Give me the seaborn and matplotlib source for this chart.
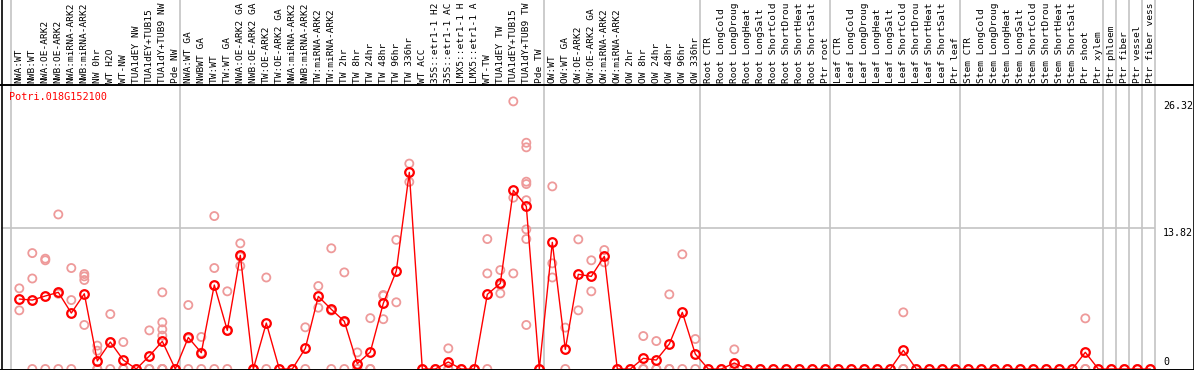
import numpy as np
import pandas as pd
import seaborn as sns
import matplotlib.pyplot as plt
from matplotlib.lines import Line2D
from matplotlib import transforms

# ── Data 
gene_id = "Potri.018G152100"

# sample names are shown cut to 14 characters
samples = [
    "NWA:WT", "NWB:WT", "NWA:OE-ARK2", "NWB:OE-ARK2", "NWA:miRNA-ARK2", "NWB:miRNA-ARK2",
    "NW 0hr", "WT H2O", "WT-NW", "TUA1dEY NW", "TUA1dEY+TUB15", "TUA1dY+TUB9 NW", "Pde NW",
    "NWA:WT GA", "NWBWT GA", "TW:WT", "TW:WT GA", "NWA:OE-ARK2 GA", "NWB:OE-ARK2 GA",
    "TW:OE-ARK2", "TW:OE-ARK2 GA", "NWA:miRNA-ARK2", "NWB:miRNA-ARK2", "TW:miRNA-ARK2",
    "TW:miRNA-ARK2", "TW 2hr", "TW 8hr", "TW 24hr", "TW 48hr", "TW 96hr", "TW 336hr",
    "WT ACC", "35S::etr1-1 H2", "35S::etr1-1 AC", "LMX5::etr1-1 H", "LMX5::etr1-1 A",
    "WT-TW", "TUA1dEY TW", "TUA1dEY+TUB15", "TUA1dY+TUB9 TW", "Pde TW",
    "OW:WT", "OW:WT GA", "OW:OE-ARK2", "OW:OE-ARK2 GA", "OW:miRNA-ARK2", "OW:miRNA-ARK2",
    "OW 2hr", "OW 8hr", "OW 24hr", "OW 48hr", "OW 96hr", "OW 336hr",
    "Root CTR", "Root LongCold", "Root LongDroug", "Root LongHeat", "Root LongSalt",
    "Root ShortCold", "Root ShortDrou", "Root ShortHeat", "Root ShortSalt", "Ptr root",
    "Leaf CTR", "Leaf LongCold", "Leaf LongDroug", "Leaf LongHeat", "Leaf LongSalt",
    "Leaf ShortCold", "Leaf ShortDrou", "Leaf ShortHeat", "Leaf ShortSalt", "Ptr leaf",
    "Stem CTR", "Stem LongCold", "Stem LongDroug", "Stem LongHeat", "Stem LongSalt",
    "Stem ShortCold", "Stem ShortDrou", "Stem ShortHeat", "Stem ShortSalt", "Ptr shoot",
    "Ptr xylem", "Ptr phloem", "Ptr fiber", "Ptr vessel", "Ptr fiber vess",
]

mean_expr = [
    6.88, 6.78, 7.18, 7.54, 5.50, 7.40, 0.79, 2.65, 0.88, 0.00, 1.28, 2.72, 0.00,
    3.10, 1.60, 8.26, 3.80, 11.18, 0.00, 4.52, 0.00, 0.00, 2.03, 7.14, 5.87, 4.69,
    0.52, 1.67, 6.46, 9.64, 19.34, 0.00, 0.00, 0.69, 0.00, 0.00, 7.34, 8.42, 17.57,
    16.00, 0.00,
    12.46, 1.93, 9.31, 9.11, 11.08, 0.00, 0.00, 1.05, 0.88, 2.46, 5.57, 1.47,
    0.00, 0.00, 0.59, 0.00, 0.00, 0.00, 0.00, 0.00, 0.00, 0.00,
    0.00, 0.00, 0.00, 0.00, 0.00, 1.83, 0.00, 0.00, 0.00, 0.00,
    0.00, 0.00, 0.00, 0.00, 0.00, 0.00, 0.00, 0.00, 0.00, 1.64, 0.00,
    0.00, 0.00, 0.00, 0.00,
]

replicates = [
    [7.93, 5.77], [11.4, 8.9, 0], [10.69, 10.85, 0], [15.2, 7.4, 0], [9.93, 6.78, 0],
    [9.34, 9.11, 8.75, 4.33], [2.3, 1.8, 0, 0], [5.4, 2.65, 0], [2.65, 0, 0], [0],
    [3.8, 0, 0], [7.54, 4.59, 3.9, 3.28, 0, 0, 0], [0],
    [6.29, 3.0, 0], [3.15, 1.6, 0], [15.04, 9.93, 0], [7.64, 3.76, 0], [12.36, 10.13, 11.05],
    [0], [9.0, 0], [0], [0], [4.1, 0], [8.16, 6.03], [11.87, 5.74, 0], [9.5, 4.6, 0],
    [1.63, 0, 0], [5.0, 0, 0], [7.28, 7.2, 4.9], [12.7, 6.56], [20.2, 18.4], [0], [0],
    [2.03, 0, 0], [0], [0], [12.78, 9.4, 0], [9.73, 8.26, 7.44], [26.32, 16.85, 9.4],
    [22.25, 21.8, 18.42, 18.19, 16.6, 13.73, 12.78, 4.33], [0],
    [17.96, 10.39, 9.0], [4.07, 0], [12.75, 5.77], [10.69, 7.64], [11.7, 10.49], [0], [0],
    [3.24, 0, 0], [2.75, 0, 0], [7.34, 0, 0], [11.28, 0], [2.95, 0],
    [0], [0], [1.93, 0, 0], [0], [0], [0], [0], [0], [0], [0],
    [0], [0], [0], [0], [0], [5.57, 0, 0], [0], [0], [0], [0],
    [0], [0], [0], [0], [0], [0], [0], [0], [0], [4.98, 0, 0], [0],
    [0], [0], [0], [0],
]

# last sample index of each group (group separators)
group_last = [-1, 12, 40, 52, 62, 72, 83, 84, 85, 86, 87]
y_labels = [0, 13.82, 26.32]

# ── Style 
W, H = 1194, 370
sns.set_style("white")
plt.rcParams["font.family"] = ["DejaVu Sans Mono", "DejaVu Sans"]
GRID = "#c4c4c4"

fig = plt.figure(figsize=(W / 100, H / 100), dpi=100)
# plot region: x 1..1155 px, y 85..369 px
ax = fig.add_axes([1 / W, 1 - 369 / H, 1154 / W, 284 / H])

# replicate points
rep_df = pd.DataFrame({"idx": range(len(samples)), "value": replicates}).explode("value")
rep_df["value"] = rep_df["value"].astype(float)
sns.scatterplot(data=rep_df, x="idx", y="value", marker="o", s=34,
                facecolor="none", edgecolor="#ee9a9a", linewidth=1.3,
                ax=ax, zorder=3, legend=False)

# mean profile
mean_df = pd.DataFrame({"idx": range(len(samples)), "value": mean_expr})
sns.lineplot(data=mean_df, x="idx", y="value", color="red", linewidth=1.0,
             marker="o", markersize=6.2, markerfacecolor="none",
             markeredgecolor="red", markeredgewidth=1.6,
             ax=ax, zorder=4, legend=False)

ax.set_xlim(-1.408, 87.36)
ax.set_ylim(0, 27.93)
ax.set_xticks([])
ax.set_yticks([])
ax.set_xlabel("")
ax.set_ylabel("")
for sp in ax.spines.values():
    sp.set_visible(False)

# grid lines
ax.axhline(13.82, color=GRID, lw=1.2, zorder=1)
for g in group_last:
    ax.axvline(g + 0.5 - 0.13, ymin=0, ymax=369 / 284, color=GRID, lw=1.2,
               clip_on=False, zorder=1)

# sample labels (header)
hdr = transforms.blended_transform_factory(ax.transData, ax.transAxes)
for i, lab in enumerate(samples):
    ax.text(i, 1 + 1.8 / 284, lab, transform=hdr, rotation=90, ha="center",
            va="bottom", fontsize=6.8, color="black", clip_on=False)

# value labels on the right
lbl = transforms.blended_transform_factory(ax.transAxes, ax.transData)
for v in y_labels:
    off = 7 if v == 0 else -5
    tr = transforms.offset_copy(lbl, fig=fig, y=off, units="dots")
    ax.text((1163 - 1) / 1154, v, f"{v:g}", transform=tr, ha="left", va="center",
            fontsize=7.2, color="black", clip_on=False)

ax.text(8.5 / 1154, 1 - 12.5 / 284, gene_id, transform=ax.transAxes, color="red",
        fontsize=7.3, ha="left", va="center")

# frame lines
for xp in (1.5, 1193.5):
    fig.add_artist(Line2D([xp / W, xp / W], [0, 1], transform=fig.transFigure,
                          color="black", lw=1.2))
for yp in (85, 369.5):
    fig.add_artist(Line2D([0, 1], [1 - yp / H, 1 - yp / H], transform=fig.transFigure,
                          color="black", lw=1.4))

fig.savefig("out.png", dpi=100)
